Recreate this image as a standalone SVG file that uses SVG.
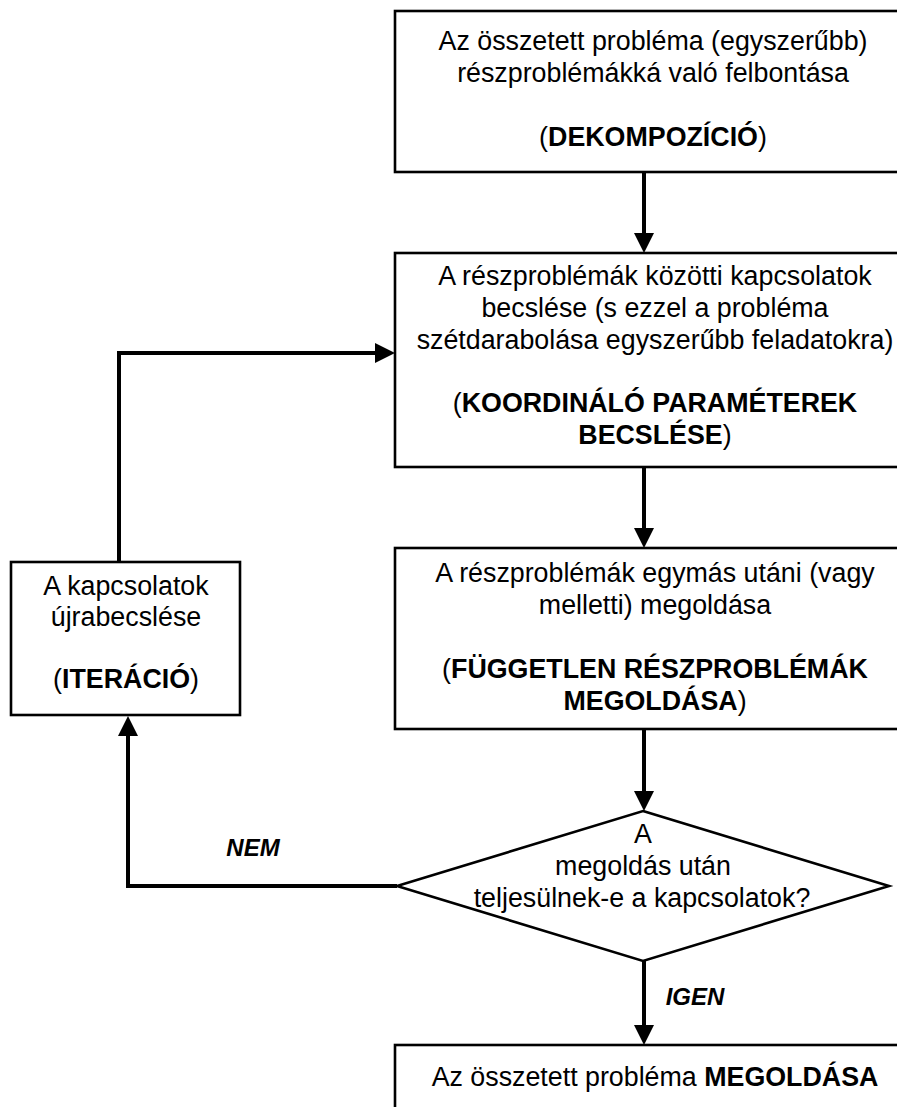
<svg xmlns="http://www.w3.org/2000/svg" width="897" height="1107" viewBox="0 0 897 1107">
  <style>
    .box { fill: #ffffff; stroke: #000000; stroke-width: 2.6; }
    .txt { font-family: "Liberation Sans", Arial, sans-serif; font-size: 26.8px; fill: #000000; text-anchor: middle; }
    .b { font-weight: bold; }
    .lbl { font-family: "Liberation Sans", Arial, sans-serif; font-size: 24px; font-weight: bold; font-style: italic; fill: #000000; }
    .conn { fill: none; stroke: #000000; stroke-width: 4; stroke-linejoin: miter; }
  </style>
  <defs>
    <marker id="arrow" viewBox="0 0 20 20" refX="1" refY="10" markerWidth="20" markerHeight="20" markerUnits="userSpaceOnUse" orient="auto">
      <path d="M0,0 L20,10 L0,20 z" fill="#000000"/>
    </marker>
  </defs>
  <rect width="897" height="1107" fill="#ffffff"/>

  <!-- connectors -->
  <g id="connectors">
    <line class="conn" x1="644" y1="172" x2="644" y2="234" marker-end="url(#arrow)"/>
    <line class="conn" x1="644" y1="467" x2="644" y2="529" marker-end="url(#arrow)"/>
    <line class="conn" x1="644" y1="729" x2="644" y2="792" marker-end="url(#arrow)"/>
    <line class="conn" x1="644" y1="961" x2="644" y2="1026" marker-end="url(#arrow)"/>
    <polyline class="conn" points="397,886 128,886 128,735" marker-end="url(#arrow)"/>
    <polyline class="conn" points="119,562 119,353 376,353" marker-end="url(#arrow)"/>
  </g>

  <!-- decomposition -->
  <g id="decomposition">
    <rect class="box" x="395" y="11" width="525" height="161"/>
    <text class="txt" x="653" y="50">Az összetett probléma (egyszerűbb)</text>
    <text class="txt" x="653" y="82">részproblémákká való felbontása</text>
    <text class="txt" x="653" y="146">(<tspan class="b">DEKOMPOZÍCIÓ</tspan>)</text>
  </g>

  <!-- coordinating parameters -->
  <g id="coordination">
    <rect class="box" x="395" y="253" width="525" height="214"/>
    <text class="txt" x="655" y="285">A részproblémák közötti kapcsolatok</text>
    <text class="txt" x="655" y="317">becslése (s ezzel a probléma</text>
    <text class="txt" x="655" y="349">szétdarabolása egyszerűbb feladatokra)</text>
    <text class="txt" x="655" y="412">(<tspan class="b">KOORDINÁLÓ PARAMÉTEREK</tspan></text>
    <text class="txt" x="655" y="444"><tspan class="b">BECSLÉSE</tspan>)</text>
  </g>

  <!-- independent subproblems -->
  <g id="subproblems">
    <rect class="box" x="395" y="548" width="525" height="181"/>
    <text class="txt" x="655" y="582">A részproblémák egymás utáni (vagy</text>
    <text class="txt" x="655" y="614">melletti) megoldása</text>
    <text class="txt" x="655" y="678">(<tspan class="b">FÜGGETLEN RÉSZPROBLÉMÁK</tspan></text>
    <text class="txt" x="655" y="710"><tspan class="b">MEGOLDÁSA</tspan>)</text>
  </g>

  <!-- iteration -->
  <g id="iteration">
    <rect class="box" x="11" y="562" width="229" height="153"/>
    <text class="txt" x="126" y="595">A kapcsolatok</text>
    <text class="txt" x="126" y="626">újrabecslése</text>
    <text class="txt" x="126" y="688">(<tspan class="b">ITERÁCIÓ</tspan>)</text>
  </g>

  <!-- decision -->
  <g id="decision">
    <polygon class="box" points="643,811 889,886 643,961 397,886"/>
    <text class="txt" x="643" y="843">A</text>
    <text class="txt" x="643" y="875">megoldás után</text>
    <text class="txt" x="642" y="907">teljesülnek-e a kapcsolatok?</text>
  </g>

  <!-- branch labels -->
  <g id="labels">
    <text class="lbl" x="253" y="856" text-anchor="middle">NEM</text>
    <text class="lbl" x="695" y="1005" text-anchor="middle">IGEN</text>
  </g>

  <!-- solution -->
  <g id="solution">
    <rect class="box" x="395" y="1045" width="525" height="100"/>
    <text class="txt" x="655" y="1086">Az összetett probléma <tspan class="b">MEGOLDÁSA</tspan></text>
  </g>
</svg>
